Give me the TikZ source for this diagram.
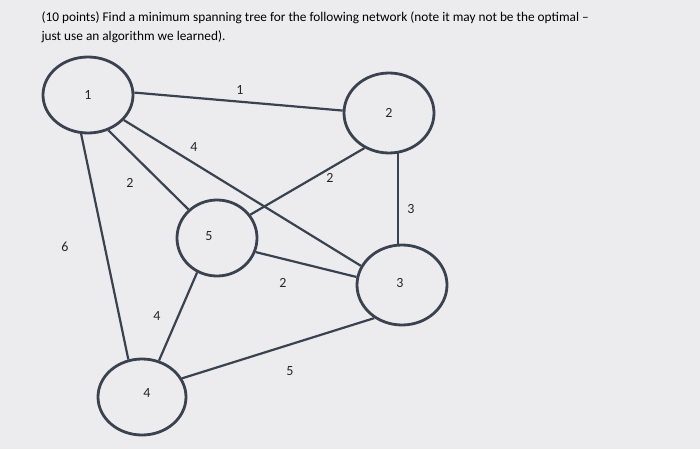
\documentclass[tikz,border=0pt]{standalone}
\usepackage{fontspec}
\setmainfont{Carlito}
\usetikzlibrary{shapes.geometric}
\begin{document}
\begin{tikzpicture}[x=1pt,y=-1pt,
  vert/.style={ellipse,draw=edgec,line width=2.8pt,inner sep=0pt},
  link/.style={draw=edgec,line width=2.2pt},
  lab/.style={font=\fontsize{14}{14}\selectfont,text=black!85}]
\definecolor{edgec}{HTML}{3A4250}
\definecolor{bgc}{HTML}{ECECEE}
\fill[bgc] (0,0) rectangle (700,449);
\useasboundingbox (0,0) rectangle (700,449);
\node[anchor=west,font=\fontsize{13.3}{15}\selectfont] (t1) at (38,18) {(10 points) Find a minimum spanning tree for the following network (note it may not be the optimal –};
\node[anchor=west,font=\fontsize{13.3}{15}\selectfont] (t2) at (38,37) {just use an algorithm we learned).};
\node[vert,minimum width=90pt,minimum height=76pt] (n1) at (88,95) {};
\node[vert,minimum width=90pt,minimum height=80pt] (n2) at (389,113) {};
\node[vert,minimum width=80pt,minimum height=76pt] (n5) at (217,238) {};
\node[vert,minimum width=90pt,minimum height=80pt] (n3) at (402,285) {};
\node[vert,minimum width=88pt,minimum height=76pt] (n4) at (142,397) {};
\node[lab] (l1) at (88,95) {1};
\node[lab] (l2) at (389,113) {2};
\node[lab] (l5) at (209,236) {5};
\node[lab] (l3) at (400,283) {3};
\node[lab] (l4) at (147,393) {4};
\draw[link] (n1.3) -- (n2.177);
\draw[link] (n1.-35) -- (n3.155);
\draw[link] (n1.-60) -- (n5.135);
\draw[link] (n1.-100) -- (n4.110);
\draw[link] (n2.-125) -- (n5.35);
\draw[link] (398,153) -- (398,245);
\draw[link] (n5.-20) -- (n3.170);
\draw[link] (n5.-120) -- (n4.65);
\draw[link] (n4.25) -- (n3.-130);
\node[lab] (e12) at (240,90) {1};
\node[lab] (e13) at (194,147) {4};
\node[lab] (e15) at (130,183) {2};
\node[lab] (e14) at (65,247) {6};
\node[lab] (e25) at (330,178) {2};
\node[lab] (e23) at (411,209) {3};
\node[lab] (e53) at (283,283) {2};
\node[lab] (e54) at (157,316) {4};
\node[lab] (e43) at (290,371) {5};
\end{tikzpicture}
\end{document}
